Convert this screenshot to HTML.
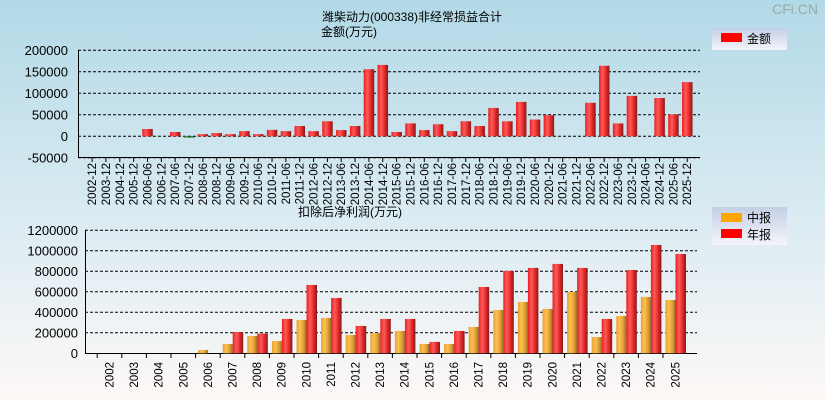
<!DOCTYPE html>
<html><head><meta charset="utf-8"><style>
html,body{margin:0;padding:0;width:825px;height:400px;overflow:hidden}
svg{display:block;font-family:"Liberation Sans","Noto Sans CJK SC",sans-serif}
</style></head><body>
<svg id="c" width="825" height="400" xmlns="http://www.w3.org/2000/svg">
<defs>
<linearGradient id="bg" x1="0" y1="0" x2="0" y2="1"><stop offset="0" stop-color="#b2d9e7"/><stop offset="0.6" stop-color="#dfedf3"/><stop offset="1" stop-color="#fdf8f6"/></linearGradient>
<linearGradient id="gr" x1="0" y1="0" x2="1" y2="0"><stop offset="0" stop-color="#e82020"/><stop offset="0.35" stop-color="#ff5a5a"/><stop offset="0.75" stop-color="#d82020"/><stop offset="1" stop-color="#7a2020"/></linearGradient>
<linearGradient id="go" x1="0" y1="0" x2="1" y2="0"><stop offset="0" stop-color="#e8a030"/><stop offset="0.35" stop-color="#ffc050"/><stop offset="0.75" stop-color="#d89a30"/><stop offset="1" stop-color="#8a6a30"/></linearGradient>
<linearGradient id="gg" x1="0" y1="0" x2="1" y2="0"><stop offset="0" stop-color="#2a9a2a"/><stop offset="1" stop-color="#1a5a1a"/></linearGradient>
<linearGradient id="lg" x1="0" y1="0" x2="0" y2="1"><stop offset="0" stop-color="#c4cfe6"/><stop offset="1" stop-color="#f4f4fa"/></linearGradient>
</defs>
<rect width="825" height="400" fill="url(#bg)"/>
<text x="818" y="14" text-anchor="end" font-size="14" fill="#9aa">CFi.CN</text>
<text x="412" y="21" text-anchor="middle" font-size="12">潍柴动力(000338)非经常损益合计</text>
<text x="349" y="36" text-anchor="middle" font-size="12">金额(万元)</text>
<text x="350" y="216" text-anchor="middle" font-size="12">扣除后净利润(万元)</text>
<g>
<rect x="712" y="28" width="75" height="22" fill="url(#lg)"/>
<rect x="721" y="33" width="21" height="9" fill="#f00"/>
<text x="747" y="43" font-size="12">金额</text>
</g>
<g>
<rect x="712" y="207" width="75" height="38" fill="url(#lg)"/>
<rect x="721" y="213" width="21" height="9" fill="#ffa500"/>
<text x="747" y="222" font-size="12">中报</text>
<rect x="721" y="229" width="21" height="9" fill="#f00"/>
<text x="747" y="239" font-size="12">年报</text>
</g>
<g id="top"></g><g id="bot"></g>
</svg>
<script>
const topCats=["2002-12","2003-12","2004-12","2005-12","2006-06","2006-12","2007-06","2007-12","2008-06","2008-12","2009-06","2009-12","2010-06","2010-12","2011-06","2011-12","2012-06","2012-12","2013-06","2013-12","2014-06","2014-12","2015-06","2015-12","2016-06","2016-12","2017-06","2017-12","2018-06","2018-12","2019-06","2019-12","2020-06","2020-12","2021-06","2021-12","2022-06","2022-12","2023-06","2023-12","2024-06","2024-12","2025-06","2025-12"];
const topVals=[0,0,0,0,17000,0,10000,-3000,5000,7500,5000,12000,5000,15000,12000,24000,12000,35000,14500,24000,156000,166000,10000,30000,14500,28000,12000,35000,24000,66000,35000,80000,39000,49000,0,0,78000,164000,30000,94000,0,89000,51000,126000];
const topTicks=[200000,150000,100000,50000,0,-50000];
const botCats=["2002","2003","2004","2005","2006","2007","2008","2009","2010","2011","2012","2013","2014","2015","2016","2017","2018","2019","2020","2021","2022","2023","2024","2025"];
const midVals=[0,0,0,0,32500,91000,169000,120000,325000,345000,179000,198000,218000,91000,91000,257000,423000,501000,433000,599000,159000,364000,550000,520000];
const annVals=[0,0,0,0,0,208000,192000,335000,667000,540000,267000,335000,335000,111000,218000,647000,803000,833000,872000,833000,335000,813000,1057000,969000];
const botTicks=[1200000,1000000,800000,600000,400000,200000,0];
const NS="http://www.w3.org/2000/svg";
function mk(p,t,a){const e=document.createElementNS(NS,t);for(const k in a)e.setAttribute(k,a[k]);p.appendChild(e);return e;}
// top chart
const T=document.getElementById('top');
const tY=v=>136.3-v*86/200000, tX0=85.2, tBW=13.84;
const tX=i=>tX0+i*tBW;
topTicks.forEach(v=>{
  const l=mk(T,'line',{x1:78,x2:700,y1:tY(v),y2:tY(v),stroke:'#000','stroke-dasharray':'3,2','stroke-width':1});
  
  
  const t=mk(T,'text',{x:68,y:tY(v)+4.5,'text-anchor':'end','font-size':13});
  t.textContent=v;
  
  
});
mk(T,'line',{x1:78.5,x2:78.5,y1:50,y2:158,stroke:'#000'});
mk(T,'line',{x1:78,x2:700,y1:157.5,y2:157.5,stroke:'#000'});
topCats.forEach((c,i)=>{
  const cx=tX(i)+tBW/2;
  mk(T,'line',{x1:cx,x2:cx,y1:157,y2:162,stroke:'#000'});
  const t=mk(T,'text',{x:0,y:0,'text-anchor':'end','font-size':11.5,transform:`translate(${cx+4},163) rotate(-90)`});
  t.textContent=c;
  
  
  const v=topVals[i]; if(v===0)return;
  const y0=tY(0),y1=tY(v);
  const r=mk(T,'rect',{x:cx-5.2,y:Math.min(y0,y1),width:10.5,height:Math.max(1,Math.abs(y1-y0)),fill:v<0?'url(#gg)':'url(#gr)'});
  
  
});
// bottom chart
const B=document.getElementById('bot');
const bY=v=>353.3-v*123/1200000, bX0=97.2, bBW=24.6;
botTicks.forEach(v=>{
  if(v>0){const l=mk(B,'line',{x1:85,x2:697,y1:bY(v),y2:bY(v),stroke:'#000','stroke-dasharray':'3,2'});
  
  }
  const t=mk(B,'text',{x:78,y:bY(v)+4.5,'text-anchor':'end','font-size':13});
  t.textContent=v;
  
  
});
mk(B,'line',{x1:85.5,x2:85.5,y1:230,y2:354,stroke:'#000'});
mk(B,'line',{x1:85,x2:697,y1:353.5,y2:353.5,stroke:'#000'});
botCats.forEach((c,i)=>{
  const cx=bX0+(i+0.5)*bBW;
  mk(B,'line',{x1:bX0+i*bBW,x2:bX0+i*bBW,y1:353,y2:358,stroke:'#000'});
  const t=mk(B,'text',{x:0,y:0,'text-anchor':'end','font-size':11.5,transform:`translate(${cx+4},362) rotate(-90)`});
  t.textContent=c;
  
  
  const m=midVals[i],a=annVals[i];
  if(m>0){const r=mk(B,'rect',{x:cx-9.8,y:bY(m),width:10,height:bY(0)-bY(m),fill:'url(#go)'});
  
  }
  if(a>0){const r=mk(B,'rect',{x:cx+0.2,y:bY(a),width:10.5,height:bY(0)-bY(a),fill:'url(#gr)'});
  
  }
});
</script>
</body></html>
